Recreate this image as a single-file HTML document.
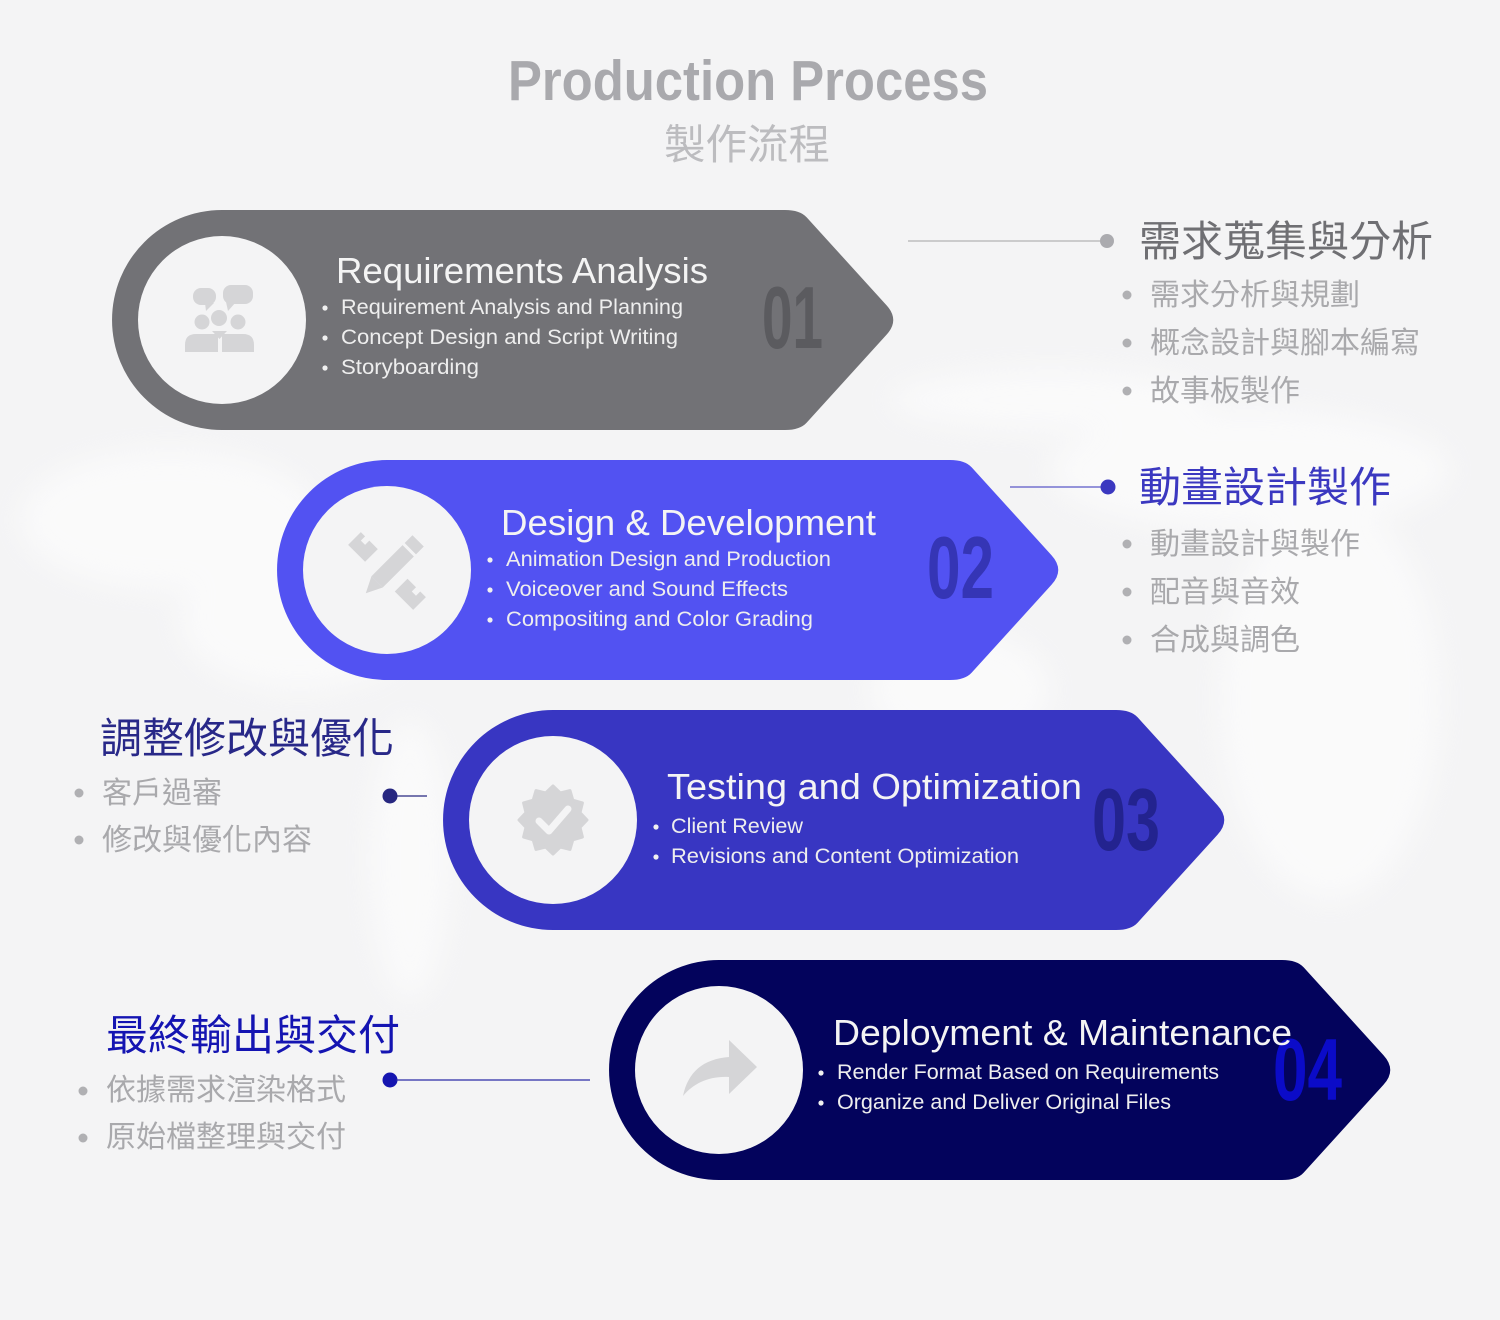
<!DOCTYPE html>
<html>
<head>
<meta charset="utf-8">
<style>
  html,body{margin:0;padding:0;background:#f4f4f5;}
  body{width:1500px;height:1320px;overflow:hidden;}
  svg{display:block;}
  .lat{font-family:"Liberation Sans",sans-serif;}
  .cjk{font-family:"Liberation Sans","Noto Sans CJK TC","Noto Sans CJK SC",sans-serif;}
</style>
</head>
<body>
<svg width="1500" height="1320" viewBox="0 0 1500 1320" xmlns="http://www.w3.org/2000/svg">
  <defs>
    <filter id="blur" x="-20%" y="-20%" width="140%" height="140%">
      <feGaussianBlur stdDeviation="14"/>
    </filter>
    <path id="shape" d="M110,0 L673,0 Q688,0 694.7,7.4 L774.5,95.2 Q788,110 774.5,124.8 L694.7,212.6 Q688,220 673,220 L110,220 A110,110 0 0 1 110,0 Z"/>
  </defs>

  <rect width="1500" height="1320" fill="#f4f4f5"/>

  <!-- faint world map impression -->
  <g fill="#ffffff" opacity="0.55" filter="url(#blur)">
    <ellipse cx="170" cy="520" rx="150" ry="70"/>
    <ellipse cx="300" cy="620" rx="120" ry="70"/>
    <ellipse cx="410" cy="860" rx="40" ry="140"/>
    <ellipse cx="960" cy="690" rx="90" ry="60"/>
    <ellipse cx="1250" cy="470" rx="200" ry="60"/>
    <ellipse cx="1330" cy="700" rx="110" ry="200"/>
    <ellipse cx="1050" cy="400" rx="160" ry="30"/>
  </g>

  <!-- Title -->
  <text class="lat" x="508" y="100" font-size="57" font-weight="bold" fill="#a9a9ad" textLength="480" lengthAdjust="spacingAndGlyphs">Production Process</text>
  <text class="cjk" x="664" y="159" font-size="41.5" fill="#bcbcbf">製作流程</text>

  <!-- Shape 1 -->
  <g transform="translate(112,210)">
    <use href="#shape" fill="#727276"/>
    <circle cx="110" cy="110" r="84" fill="#f4f4f5"/>
    <text class="lat" x="224" y="73" font-size="36" fill="#f4f4f4" textLength="372" lengthAdjust="spacingAndGlyphs">Requirements Analysis</text>
    <g fill="#f0f0f0">
      <circle cx="213" cy="98" r="2.6"/><circle cx="213" cy="128" r="2.6"/><circle cx="213" cy="158" r="2.6"/>
    </g>
    <g class="lat" font-size="21" fill="#eeeeee">
      <text x="229" y="104" textLength="342" lengthAdjust="spacingAndGlyphs">Requirement Analysis and Planning</text>
      <text x="229" y="134" textLength="337" lengthAdjust="spacingAndGlyphs">Concept Design and Script Writing</text>
      <text x="229" y="164" textLength="138" lengthAdjust="spacingAndGlyphs">Storyboarding</text>
    </g>
    <text class="lat" x="650" y="138" font-size="88" font-weight="bold" fill="#5b5b5f" textLength="61" lengthAdjust="spacingAndGlyphs">01</text>
  </g>

  <!-- Shape 2 -->
  <g transform="translate(277,460)">
    <use href="#shape" fill="#5252f2"/>
    <circle cx="110" cy="110" r="84" fill="#f4f4f5"/>
    <text class="lat" x="224" y="75" font-size="36" fill="#f4f4f4" textLength="375" lengthAdjust="spacingAndGlyphs">Design &amp; Development</text>
    <g fill="#f0f0f0">
      <circle cx="213" cy="100" r="2.6"/><circle cx="213" cy="130" r="2.6"/><circle cx="213" cy="160" r="2.6"/>
    </g>
    <g class="lat" font-size="21" fill="#eeeeee">
      <text x="229" y="106" textLength="325" lengthAdjust="spacingAndGlyphs">Animation Design and Production</text>
      <text x="229" y="136" textLength="282" lengthAdjust="spacingAndGlyphs">Voiceover and Sound Effects</text>
      <text x="229" y="166" textLength="307" lengthAdjust="spacingAndGlyphs">Compositing and Color Grading</text>
    </g>
    <text class="lat" x="650" y="138" font-size="88" font-weight="bold" fill="#3535b5" textLength="67" lengthAdjust="spacingAndGlyphs">02</text>
  </g>

  <!-- Shape 3 -->
  <g transform="translate(443,710)">
    <use href="#shape" fill="#3836c2"/>
    <circle cx="110" cy="110" r="84" fill="#f4f4f5"/>
    <text class="lat" x="224" y="89" font-size="36" fill="#f4f4f4" textLength="415" lengthAdjust="spacingAndGlyphs">Testing and Optimization</text>
    <g fill="#f0f0f0">
      <circle cx="213" cy="117" r="2.6"/><circle cx="213" cy="147" r="2.6"/>
    </g>
    <g class="lat" font-size="21" fill="#eeeeee">
      <text x="228" y="123" textLength="132" lengthAdjust="spacingAndGlyphs">Client Review</text>
      <text x="228" y="153" textLength="348" lengthAdjust="spacingAndGlyphs">Revisions and Content Optimization</text>
    </g>
    <text class="lat" x="649" y="140" font-size="88" font-weight="bold" fill="#23238f" textLength="68" lengthAdjust="spacingAndGlyphs">03</text>
  </g>

  <!-- Shape 4 -->
  <g transform="translate(609,960)">
    <use href="#shape" fill="#03035c"/>
    <circle cx="110" cy="110" r="84" fill="#f4f4f5"/>
    <text class="lat" x="664" y="140" font-size="88" font-weight="bold" fill="#0b0bc8" textLength="69" lengthAdjust="spacingAndGlyphs">04</text>
    <text class="lat" x="224" y="85" font-size="36" fill="#f4f4f4" textLength="459" lengthAdjust="spacingAndGlyphs">Deployment &amp; Maintenance</text>
    <g fill="#f0f0f0">
      <circle cx="212" cy="113" r="2.6"/><circle cx="212" cy="143" r="2.6"/>
    </g>
    <g class="lat" font-size="21" fill="#eeeeee">
      <text x="228" y="119" textLength="382" lengthAdjust="spacingAndGlyphs">Render Format Based on Requirements</text>
      <text x="228" y="149" textLength="334" lengthAdjust="spacingAndGlyphs">Organize and Deliver Original Files</text>
    </g>
  </g>

  <!-- Icon 1: people with chat bubbles -->
  <g fill="#d5d5d7">
    <rect x="193" y="288" width="23" height="17" rx="8"/>
    <polygon points="205,303 214,303 206,311"/>
    <rect x="223" y="285" width="30" height="19" rx="8"/>
    <polygon points="226,302 236,302 228,311"/>
    <circle cx="202" cy="322" r="7.5"/>
    <circle cx="219" cy="318" r="8"/>
    <circle cx="238" cy="322" r="7.5"/>
    <path d="M185,352 L185,345 Q185,334 196,334 L218,334 L218,352 Z"/>
    <path d="M222,352 L222,334 L243,334 Q254,334 254,345 L254,352 Z"/>
    <polygon points="212,331 227,331 219.5,339"/>
  </g>

  <!-- Icon 2: pencil & ruler -->
  <g fill="#d5d5d7">
    <g transform="translate(387,571) rotate(-45)">
      <path d="M-9,-46 L9,-46 L9,-40 L3,-40 L3,-34 L9,-34 L9,-22 L-9,-22 Z"/>
      <path d="M-9,20 L9,20 L9,32 L3,32 L3,38 L9,38 L9,46 L-9,46 Z"/>
    </g>
    <g transform="translate(387,572) rotate(45)">
      <rect x="-8" y="-44" width="16" height="11"/>
      <rect x="-8" y="-30" width="16" height="44"/>
      <polygon points="-8,14 8,14 0,30"/>
    </g>
  </g>

  <!-- Icon 3: badge check -->
  <polygon fill="#d5d5d7" stroke="#d5d5d7" stroke-width="3" stroke-linejoin="round" points="587,820 580,827.3 582.4,837 572.8,839.8 570,849.4 560.3,847 553,854 545.7,847 536,849.4 533.2,839.8 523.6,837 526,827.3 519,820 526,812.7 523.6,803 533.2,800.2 536,790.6 545.7,793 553,786 560.3,793 570,790.6 572.8,800.2 582.4,803 580,812.7"/>
  <polyline points="539,821 549,831 568,809" fill="none" stroke="#f4f4f5" stroke-width="7" stroke-linecap="round" stroke-linejoin="round"/>

  <!-- Icon 4: share arrow -->
  <path fill="#d5d5d7" d="M683,1096 C688,1072 703,1059 729,1057 L729,1040 L757,1067 L729,1094 L729,1077 C709,1076 694,1083 683,1096 Z"/>

  <!-- Connector 1 + right label -->
  <line x1="908" y1="241" x2="1102" y2="241" stroke="#b2b2b5" stroke-width="1.2"/>
  <circle cx="1107" cy="241" r="7" fill="#ababaf"/>
  <text class="cjk" x="1139" y="256" font-size="42" fill="#6f6f73">需求蒐集與分析</text>
  <g fill="#b0b0b3">
    <circle cx="1127" cy="295" r="4.5"/><circle cx="1127" cy="343" r="4.5"/><circle cx="1127" cy="391" r="4.5"/>
  </g>
  <g class="cjk" font-size="30" fill="#a9a9ac">
    <text x="1150" y="305">需求分析與規劃</text>
    <text x="1150" y="353">概念設計與腳本編寫</text>
    <text x="1150" y="401">故事板製作</text>
  </g>

  <!-- Connector 2 + right label -->
  <line x1="1010" y1="487" x2="1103" y2="487" stroke="#5a58c8" stroke-width="1.2"/>
  <circle cx="1108" cy="487" r="7.5" fill="#3b38c0"/>
  <text class="cjk" x="1139" y="502" font-size="42" fill="#3b38c0">動畫設計製作</text>
  <g fill="#b0b0b3">
    <circle cx="1127" cy="544" r="4.5"/><circle cx="1127" cy="592" r="4.5"/><circle cx="1127" cy="640" r="4.5"/>
  </g>
  <g class="cjk" font-size="30" fill="#a9a9ac">
    <text x="1150" y="554">動畫設計與製作</text>
    <text x="1150" y="602">配音與音效</text>
    <text x="1150" y="650">合成與調色</text>
  </g>

  <!-- Connector 3 + left label -->
  <text class="cjk" x="100" y="753" font-size="42" fill="#282888">調整修改與優化</text>
  <g fill="#b0b0b3">
    <circle cx="79" cy="793" r="4.5"/><circle cx="79" cy="840" r="4.5"/>
  </g>
  <g class="cjk" font-size="30" fill="#a9a9ac">
    <text x="102" y="803">客戶過審</text>
    <text x="102" y="850">修改與優化內容</text>
  </g>
  <circle cx="390" cy="796" r="7.5" fill="#272780"/>
  <line x1="396" y1="796" x2="427" y2="796" stroke="#272780" stroke-width="1.2"/>

  <!-- Connector 4 + left label -->
  <text class="cjk" x="106" y="1050" font-size="42" fill="#1414b2">最終輸出與交付</text>
  <g fill="#b0b0b3">
    <circle cx="83" cy="1091" r="4.5"/><circle cx="83" cy="1138" r="4.5"/>
  </g>
  <g class="cjk" font-size="30" fill="#a9a9ac">
    <text x="106" y="1100">依據需求渲染格式</text>
    <text x="106" y="1147">原始檔整理與交付</text>
  </g>
  <circle cx="390" cy="1080" r="7.5" fill="#1515b0"/>
  <line x1="396" y1="1080" x2="590" y2="1080" stroke="#2a2aa8" stroke-width="1.2"/>
</svg>
</body>
</html>
